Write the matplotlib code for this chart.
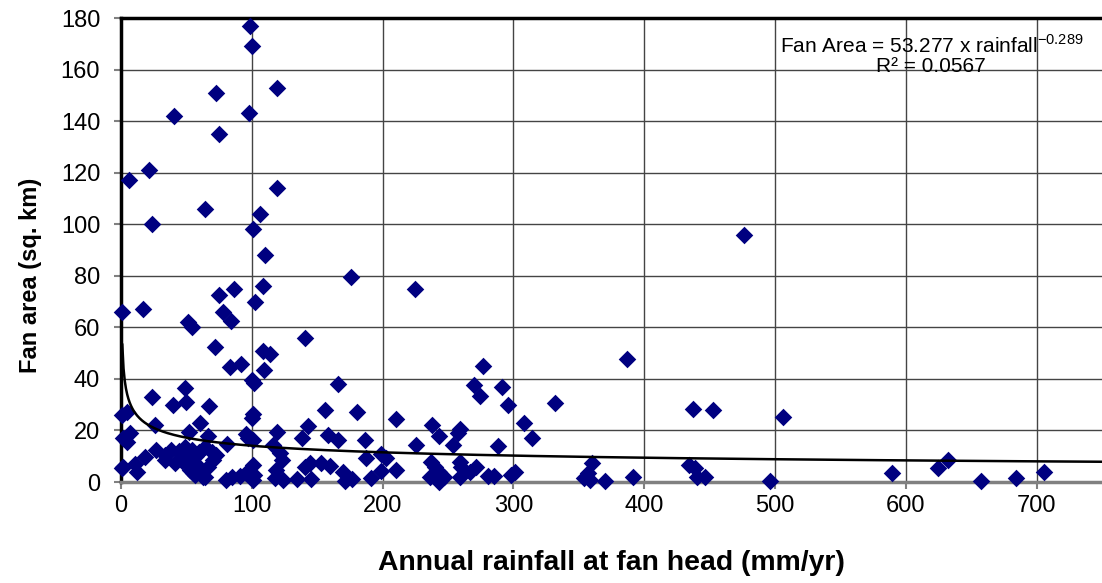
import numpy as np
import matplotlib
matplotlib.use("Agg")
import matplotlib.pyplot as plt

plt.rcParams["font.family"] = ["Liberation Sans", "DejaVu Sans"]
plt.rcParams["mathtext.fontset"] = "custom"
plt.rcParams["mathtext.rm"] = "Liberation Sans"

# rainfall at fan head (mm/yr) and fan area (sq. km)
rainfall = [
    99, 100, 72.5, 119, 98, 40.5, 75, 21.5, 6.3, 119, 64, 106, 24, 101, 110,
    176, 108.6, 225, 476, 86.3, 75.3, 102.8, 78, 0.5, 16.5, 84, 51.4, 54,
    71.8, 108.6, 113.7, 83.7, 91.6, 109, 100, 102, 141, 277, 387, 166,
    49, 23.5, 40, 50, 67.4, 0.5, 4.4, 101, 100.5, 26, 60.5, 119.5, 52, 95.5,
    66.8, 101, 97, 1.8, 6.9, 4.4, 270, 291, 274.5, 295.5, 331.5, 156, 180.5,
    210.5, 237.8, 259, 257.5, 308, 314, 143, 242.8, 437, 452.5, 506,
    26.8, 38.5, 18.3, 10.7, 0.5, 12, 1.3, 34, 46.3, 33.6, 41.2, 48.9, 46.3,
    48.9, 54, 64, 69.2, 73, 70.4, 66.6, 51.4, 56.5, 52.7, 60.3, 62.8, 56.5,
    55.2, 64, 57, 60, 44, 81, 80.6, 84.5, 90.8, 95.9, 101, 101, 102, 116.5,
    121.4, 123, 118.5, 117.6, 124, 134.5, 138, 140.5, 144.3, 145.6, 158,
    153, 160, 166, 169.5, 171, 176.5, 186.5, 187.2, 191.4, 199, 202.8, 199,
    210, 225.7, 254, 288, 237, 239.7, 243.5, 247.3, 243.5, 235.9, 258.8, 260,
    258.8, 266.5, 271.5, 280.4, 285, 298, 301, 360.3, 357, 354, 358.2, 370,
    391.5, 434.2, 438.8, 440.2, 446.2, 496.3, 589.3, 625, 632.6, 657.3,
    684.6, 705.7,
]
fan_area = [
    177, 169, 151, 153, 143, 142, 135, 121, 117, 114, 106, 104, 100, 98, 88,
    79.5, 76, 75, 96, 75, 72.5, 70, 66, 66, 67, 62.3, 62, 60,
    52.5, 51, 49.5, 44.5, 45.6, 43.5, 39.5, 38.5, 56, 45, 47.6, 38,
    36.5, 33, 30, 31.1, 29.3, 26, 27, 26.5, 25, 22.1, 23, 19.5, 19.3, 18.8,
    18, 16.3, 17, 17.2, 19, 15.4, 37.6, 36.7, 33.5, 30, 30.5, 28, 27.3,
    24.5, 22.1, 20.6, 19, 23, 17, 21.6, 18, 28.5, 28, 25.2,
    12.4, 12.6, 9.8, 7, 5.4, 4, 5.8, 8.6, 8, 10.5, 7.2, 8.5, 10.5,
    13.7, 12.4, 13.4, 11.8, 10.5, 8.5, 5.9, 8.5, 7.2, 4.7, 4.7, 2.1, 2.7,
    3.4, 2.1, 10, 11.5, 12, 14.6, 0.8, 2.1, 2.2, 3.5, 6.6, 0.8, 2.7, 14.3,
    11.1, 8.5, 4.7, 1.4, 0.8, 1.2, 17, 5.9, 7.5, 1.3, 18.2,
    7.2, 6.2, 16.2, 4, 0.3, 1.1, 16.4, 9.5, 1.5, 11, 9.4, 4.3,
    4.5, 14.5, 14.5, 13.8, 7.8, 5.9, 4, 2.1, 0.1, 1.8, 7.8, 5.7,
    2.1, 4, 5.8, 2.3, 2.2, 2.6, 4, 7.2, 3.4, 1.4, 0.8, 0.4,
    1.8, 6.6, 5.3, 2.1, 1.8, 0.5, 3.4, 5.3, 8.5, 0.4,
    1.4, 4,
]

# power trendline shown on the chart
fit_coef = 53.277
fit_exp = -0.289
fit_r2 = 0.0567

x_ticks = [0, 100, 200, 300, 400, 500, 600, 700]
y_ticks = [0, 20, 40, 60, 80, 100, 120, 140, 160, 180]

fig = plt.figure(figsize=(11.02, 5.83), dpi=100)
ax = fig.add_axes([0.1098, 0.1732, 0.8902, 0.7959])

ax.scatter(rainfall, fan_area, marker="D", s=80, color="#000080",
           linewidths=0, zorder=3, clip_on=False)

xs = np.linspace(1, 750, 800)
ax.plot(xs, fit_coef * xs ** fit_exp, color="black", lw=1.8, zorder=4)

ax.set_xlim(0, 750)
ax.set_ylim(0, 180)
ax.set_xticks(x_ticks)
ax.set_yticks(y_ticks)
ax.grid(True, color="#444444", lw=1)
ax.set_axisbelow(True)

ax.spines["left"].set_linewidth(2.5)
ax.spines["left"].set_color("black")
ax.spines["top"].set_linewidth(2.5)
ax.spines["top"].set_color("black")
ax.spines["bottom"].set_linewidth(2.5)
ax.spines["bottom"].set_color("#808080")
ax.spines["right"].set_visible(False)

ax.tick_params(axis="both", direction="out", length=5, width=1.5,
               color="#808080", labelsize=17)
ax.tick_params(axis="y", pad=10)
ax.tick_params(axis="x", pad=4)

ax.set_xlabel("Annual rainfall at fan head (mm/yr)", fontsize=20.4,
              fontweight="bold", labelpad=24)
ax.set_ylabel("Fan area (sq. km)", fontsize=17, fontweight="bold")
ax.yaxis.set_label_coords(-0.081, 0.446)

ax.text(0.826, 0.92,
        f"Fan Area = {fit_coef} x rainfall$^{{{fit_exp}}}$\nR² = {fit_r2}",
        transform=ax.transAxes, ha="center", va="center",
        multialignment="center", fontsize=15, linespacing=1.0)

fig.savefig("out.png", dpi=100)
